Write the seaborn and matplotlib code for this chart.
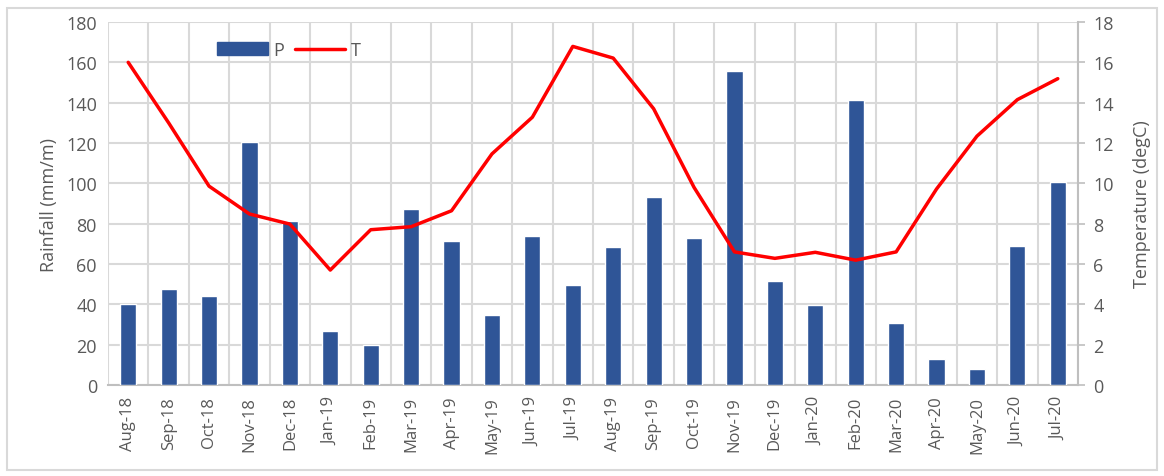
import matplotlib
matplotlib.use("Agg")
import matplotlib.pyplot as plt
import seaborn as sns
import numpy as np
import pandas as pd
from matplotlib.patches import Rectangle, Patch
from matplotlib.lines import Line2D

months = ["Aug-18", "Sep-18", "Oct-18", "Nov-18", "Dec-18", "Jan-19", "Feb-19", "Mar-19",
          "Apr-19", "May-19", "Jun-19", "Jul-19", "Aug-19", "Sep-19", "Oct-19", "Nov-19",
          "Dec-19", "Jan-20", "Feb-20", "Mar-20", "Apr-20", "May-20", "Jun-20", "Jul-20"]
rainfall = [40.4, 47.4, 43.9, 120.7, 81.2, 26.7, 19.9, 87.4,
            71.3, 34.6, 74.1, 49.4, 68.5, 93.0, 72.9, 155.6,
            51.7, 39.6, 141.4, 30.5, 13.1, 8.1, 68.8, 100.7]
temperature = [16.0, 13.0, 9.86, 8.48, 7.98, 5.7, 7.7, 7.85,
               8.64, 11.46, 13.28, 16.79, 16.21, 13.7, 9.8, 6.6,
               6.28, 6.58, 6.19, 6.6, 9.72, 12.34, 14.15, 15.19]

df = pd.DataFrame({"Month": months, "P": rainfall, "T": temperature})
df["idx"] = np.arange(len(df))

sns.set_theme(style="white")
plt.rcParams["font.family"] = ["Open Sans", "DejaVu Sans"]

GRAY = "#595959"
GRID = "#d9d9d9"
BAR = "#2f5597"
RED = "#ff0000"

fig = plt.figure(figsize=(11.64, 4.77), dpi=100)
ax = fig.add_axes([108/1164, 1-386/477, (1078-108)/1164, (386-23)/477])

sns.barplot(data=df, x="Month", y="P", color=BAR, width=0.4, ax=ax, saturation=1, zorder=3)
ax.set_ylim(0, 180)
ax.set_xlim(-0.5, len(months) - 0.5)
ax.set_yticks(np.arange(0, 181, 20))
ax.set_xticks(np.arange(len(months) + 1) - 0.5, minor=True)
ax.grid(True, which="minor", axis="x", color=GRID, lw=1.5, zorder=0)
ax.grid(True, which="major", axis="y", color=GRID, lw=1.5, zorder=0)
ax.set_axisbelow(True)
ax.tick_params(axis="x", which="both", length=0, labelsize=12, labelcolor=GRAY, rotation=90, pad=8)
ax.tick_params(axis="y", length=0, labelsize=13, labelcolor=GRAY, pad=8)
ax.set_xlabel("")
ax.set_ylabel("Rainfall (mm/m)", fontsize=13, color=GRAY, labelpad=6)
for s in ["top", "right", "left"]:
    ax.spines[s].set_visible(False)
ax.spines["bottom"].set_color("#bfbfbf")
ax.spines["bottom"].set_linewidth(1.5)

ax2 = ax.twinx()
sns.lineplot(data=df, x="idx", y="T", color=RED, lw=2.5, ax=ax2)
ax2.set_ylim(0, 18)
ax2.set_xlim(-0.5, len(months) - 0.5)
ax2.set_yticks(np.arange(0, 19, 2))
ax2.tick_params(axis="y", length=5, width=1.2, color="#bfbfbf", labelsize=13, labelcolor=GRAY, pad=6)
ax2.set_ylabel("Temperature (degC)", fontsize=13, color=GRAY, labelpad=14)
ax2.set_xlabel("")
for s in ["top", "left", "bottom"]:
    ax2.spines[s].set_visible(False)
ax2.spines["right"].set_color("#bfbfbf")
ax2.spines["right"].set_linewidth(1.5)

handles = [Patch(facecolor=BAR, edgecolor=BAR), Line2D([0], [0], color=RED, lw=2.5)]
leg = ax2.legend(handles, ["P", "T"], ncol=2, frameon=False, loc="center",
                 bbox_to_anchor=(289/1164, 1-51/477), bbox_transform=fig.transFigure,
                 handlelength=2.8, handleheight=0.7, columnspacing=0.6, handletextpad=0.3,
                 prop={"size": 13})
for t in leg.get_texts():
    t.set_color(GRAY)

fig.patches.append(Rectangle((7/1164, 1-471/477), (1157-7)/1164, (471-9)/477,
                             transform=fig.transFigure, fill=False, edgecolor=GRID, lw=1.5))

fig.savefig("out.png", dpi=100)
